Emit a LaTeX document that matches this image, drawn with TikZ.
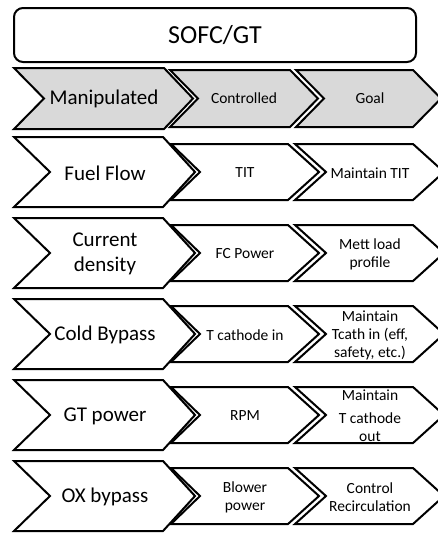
\documentclass[tikz,border=0pt]{standalone}
\usepackage{fontspec}
\setmainfont{Carlito}
\begin{document}
\begin{tikzpicture}[x=1pt,y=-1pt,line width=2pt,line join=miter,
    big/.style={font=\fontsize{21}{25}\selectfont,align=center},
    small/.style={font=\fontsize{15.5}{18}\selectfont,align=center}]
\useasboundingbox (0,0) rectangle (438,533);
\draw[rounded corners=9pt] (14,8) rectangle (416,62);
\node[font=\fontsize{26}{30}\selectfont] (title) at (215,35) {SOFC/GT};

% header row
\draw[fill=black!15] (14,68)--(164,68)--(193,98.5)--(164,129)--(14,129)--(44,98.5)--cycle;
\draw[fill=black!15] (170,70)--(290,70)--(318,98.5)--(290,127)--(170,127)--(198,98.5)--cycle;
\draw[fill=black!15] (296,70)--(413,70)--(441,98.5)--(413,127)--(296,127)--(324,98.5)--cycle;
\node[big] (manip) at (104,98.5) {Manipulated};
\node[small] (contr) at (244,98.5) {Controlled};
\node[small] (goal) at (370,98.5) {Goal};

% chevrons of the five rows
\foreach \t in {137,218,299,380,461}
{
    \draw (14,\t)--(163,\t)--(195,\t+35)--(163,\t+70)--(14,\t+70)--(50,\t+35)--cycle;
    \draw (171,\t+7)--(288,\t+7)--(319,\t+35)--(288,\t+63)--(171,\t+63)--(200,\t+35)--cycle;
    \draw (295,\t+7)--(413,\t+7)--(444,\t+35)--(413,\t+63)--(295,\t+63)--(326,\t+35)--cycle;
}

\node[big] (fuel) at (105,173) {Fuel Flow};
\node[small] (tit) at (245,173) {TIT};
\node[small] (keeptit) at (370,173) {Maintain TIT};

\node[big] (curr) at (105,254) {Current\\density};
\node[small] (fcpow) at (245,254) {FC Power};
\node[small] (load) at (370,254) {Mett load\\profile};

\node[big] (cold) at (105,335) {Cold Bypass};
\node[small] (tcin) at (245,335) {T cathode in};
\node[small] (keeptcin) at (370,335) {Maintain\\Tcath in (eff,\\safety, etc.)};

\node[big] (gtpow) at (105,416) {GT power};
\node[small] (rpm) at (245,416) {RPM};
\node[small] (keeptcout) at (370,416) {Maintain\\[5pt]T cathode\\out};

\node[big] (ox) at (105,497) {OX bypass};
\node[small] (blower) at (245,497) {Blower\\power};
\node[small] (recirc) at (370,497) {Control\\Recirculation};
\end{tikzpicture}
\end{document}
